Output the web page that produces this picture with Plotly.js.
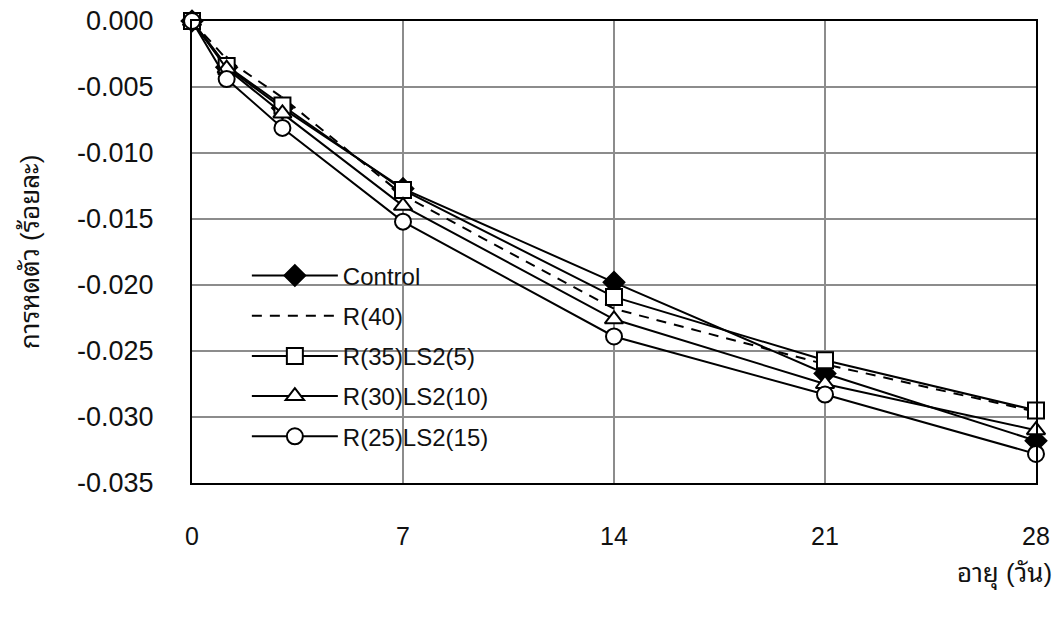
<!DOCTYPE html>
<html>
<head>
<meta charset="utf-8">
<script src="https://cdn.plot.ly/plotly-3.0.1.min.js"></script>
<style>
  html, body { margin: 0; padding: 0; background: #fff; }
  #chart { width: 1063px; height: 621px; }
</style>
</head>
<body>
<div id="chart"></div>
<script>
// Age of specimens (days)
const ageDays = [0, 1.15, 3, 7, 14, 21, 28];

// Shrinkage (percent) for each mix
const control   = [0, -0.0035, -0.0066, -0.0127, -0.0198, -0.0267, -0.0318];
const r40       = [0, -0.0029, -0.0058, -0.0132, -0.0218, -0.0260, -0.0296];
const r35ls2_5  = [0, -0.0034, -0.0064, -0.0128, -0.0209, -0.0257, -0.0295];
const r30ls2_10 = [0, -0.0036, -0.0070, -0.0140, -0.0226, -0.0275, -0.0310];
const r25ls2_15 = [0, -0.0044, -0.0081, -0.0152, -0.0239, -0.0283, -0.0328];

const seriesNames = ['Control', 'R(40)', 'R(35)LS2(5)', 'R(30)LS2(10)', 'R(25)LS2(15)'];

const xTickVals = [0, 7, 14, 21, 28];
const xTickText = ['0', '7', '14', '21', '28'];
const yTickVals = [0, -0.005, -0.010, -0.015, -0.020, -0.025, -0.030, -0.035];
const yTickText = ['0.000', '-0.005', '-0.010', '-0.015', '-0.020', '-0.025', '-0.030', '-0.035'];

const yTitle = 'การหดตัว (ร้อยละ)';
const xTitle = 'อายุ (วัน)';

const FONT = 'Liberation Sans, Arial, Noto Sans Thai Looped, Loma, Garuda, Noto Sans, Noto Sans Thai, sans-serif';
const TEXT = '#111';
const lineStyle = { color: '#000', width: 2 };

function markerOf(symbol, fill) {
  return { symbol: symbol, size: 16, color: fill, line: { color: '#000', width: 2 } };
}

const traces = [
  { name: seriesNames[0], y: control, mode: 'lines+markers', line: lineStyle,
    marker: markerOf('diamond', '#000') },
  { name: seriesNames[1], y: r40, mode: 'lines',
    line: { color: '#000', width: 2, dash: '10px,8px' } },
  { name: seriesNames[2], y: r35ls2_5, mode: 'lines+markers', line: lineStyle,
    marker: markerOf('square', '#fff') },
  { name: seriesNames[3], y: r30ls2_10, mode: 'lines+markers', line: lineStyle,
    marker: markerOf('triangle-up', '#fff') },
  { name: seriesNames[4], y: r25ls2_15, mode: 'lines+markers', line: lineStyle,
    marker: markerOf('circle', '#fff') }
].map((t, i) => Object.assign({ x: ageDays, type: 'scatter', cliponaxis: false,
  legendgroup: 'g' + i }, t));

const layout = {
  width: 1063, height: 621,
  margin: { l: 192, r: 27, t: 21, b: 138 },
  paper_bgcolor: '#fff', plot_bgcolor: '#fff',
  font: { family: FONT, size: 24, color: TEXT },
  showlegend: true,
  legend: {
    x: 0.065, y: 0.497, xanchor: 'left', yanchor: 'top',
    bgcolor: 'rgba(0,0,0,0)', borderwidth: 0,
    font: { family: FONT, size: 24, color: TEXT },
    traceorder: 'grouped', tracegroupgap: 6,
    itemwidth: 86
  },
  // white panel behind the legend: hides the gridlines, stays under the curves
  shapes: [
    { type: 'rect', xref: 'paper', yref: 'paper', layer: 'between',
      x0: 0.018, x1: 0.40, y0: 0.035, y1: 0.519,
      fillcolor: '#fff', line: { width: 0 } }
  ],
  xaxis: {
    range: [0, 28], tickmode: 'array', tickvals: xTickVals, ticktext: xTickText,
    showgrid: true, gridcolor: '#8c8c8c', gridwidth: 2,
    showline: true, linecolor: '#000', linewidth: 2, mirror: true,
    zeroline: false, ticks: '', ticklabelstandoff: 30,
    tickfont: { family: FONT, size: 25, color: TEXT }
  },
  yaxis: {
    range: [-0.035, 0], tickmode: 'array', tickvals: yTickVals, ticktext: yTickText,
    showgrid: true, gridcolor: '#8c8c8c', gridwidth: 2,
    showline: true, linecolor: '#000', linewidth: 2, mirror: true,
    zeroline: false, ticks: '', ticklabelstandoff: 31,
    tickfont: { family: FONT, size: 27, color: TEXT },
    title: { text: yTitle, font: { family: FONT, size: 26, color: TEXT }, standoff: 30 }
  },
  annotations: [
    { text: xTitle, xref: 'paper', yref: 'paper', x: 1.021, y: -0.198,
      xanchor: 'right', yanchor: 'middle', showarrow: false,
      font: { family: FONT, size: 26, color: TEXT } }
  ]
};

Plotly.newPlot('chart', traces, layout, { staticPlot: true, displayModeBar: false });
</script>
</body>
</html>
